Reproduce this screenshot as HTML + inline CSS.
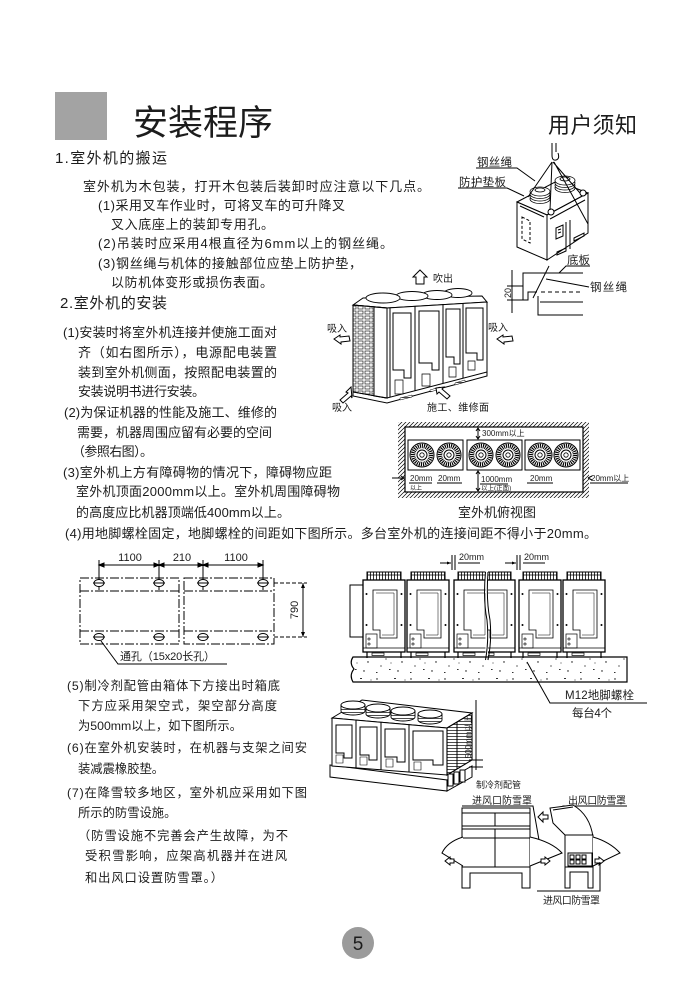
<!DOCTYPE html>
<html><head><meta charset="utf-8"><style>
html,body{margin:0;padding:0;background:#fff;}
svg{display:block;}
text{font-family:"Liberation Sans","Noto Sans CJK SC",sans-serif;fill:#1c1c1c;}
.s{fill:none;stroke:#000;stroke-width:1;}
.w{fill:#fff;stroke:#000;stroke-width:1;}
.t{font-size:13px;}
.t2{font-size:12.3px;}
.sm{font-size:10px;}
.lb{font-size:11.5px;}
.xs{font-size:8px;}
</style></head><body>
<svg width="699" height="992" viewBox="0 0 699 992" xmlns="http://www.w3.org/2000/svg">
<defs>
<pattern id="hatch" width="4" height="4" patternUnits="userSpaceOnUse"><path d="M-1,1 L1,-1 M0,4 L4,0 M3,5 L5,3" stroke="#000" stroke-width="0.7"/></pattern>
<pattern id="grille" width="7" height="5" patternUnits="userSpaceOnUse"><rect x="1" y="1" width="5" height="3" fill="#fff" stroke="#000" stroke-width="0.6"/></pattern>
<pattern id="vgr" width="3" height="8" patternUnits="userSpaceOnUse"><rect width="3" height="8" fill="#fff"/><path d="M1.5,0 V8" stroke="#000" stroke-width="0.8"/></pattern>
<pattern id="hgr" width="6" height="3" patternUnits="userSpaceOnUse"><rect width="6" height="3" fill="#fff"/><path d="M0,1.5 H6" stroke="#000" stroke-width="0.7"/></pattern>
<pattern id="speck" width="34" height="25" patternUnits="userSpaceOnUse">
<rect width="34" height="25" fill="#fff"/>
<g fill="#000"><circle cx="3" cy="4" r="0.7"/><circle cx="12" cy="9" r="0.6"/><rect x="20" y="3" width="2" height="0.8"/><circle cx="28" cy="12" r="0.7"/><circle cx="7" cy="16" r="0.6"/><rect x="15" y="19" width="1.6" height="0.8"/><circle cx="24" cy="21" r="0.7"/><circle cx="31" cy="5" r="0.5"/><circle cx="17" cy="13" r="0.5"/><rect x="2" y="22" width="1.5" height="0.8"/></g>
</pattern>
<g id="tfan">
<circle r="12" fill="#fff" stroke="#000" stroke-width="1"/>
<circle r="9" fill="none" stroke="#000" stroke-width="4.5" stroke-dasharray="1.1 0.9"/>
<circle r="5" fill="#fff" stroke="#000" stroke-width="1"/>
<circle r="2.2" fill="none" stroke="#000" stroke-width="0.8"/>
</g>
<g id="fu">
<rect x="4" y="-8" width="34" height="8" fill="url(#vgr)" stroke="#000" stroke-width="1"/>
<path d="M4,-5 H38" stroke="#000" stroke-width="0.7"/>
<rect x="0" y="0" width="42" height="72" fill="#fff" stroke="#000" stroke-width="1.3"/>
<path d="M10,10 H34 V58 H17 V50 H10 Z" fill="none" stroke="#000" stroke-width="0.8"/>
<path d="M13,13 H31 V55 H19" fill="none" stroke="#000" stroke-width="0.5"/>
<circle cx="3.5" cy="14" r="1" fill="#000"/><circle cx="38.5" cy="14" r="1" fill="#000"/>
<circle cx="3.5" cy="45" r="1" fill="#000"/><circle cx="38.5" cy="45" r="1" fill="#000"/>
<rect x="3" y="54" width="11" height="14" fill="none" stroke="#000" stroke-width="0.7"/>
<circle cx="6" cy="59" r="1.1" fill="none" stroke="#000" stroke-width="0.6"/><circle cx="6" cy="64" r="1.1" fill="none" stroke="#000" stroke-width="0.6"/>
<path d="M0,68 H42" stroke="#000" stroke-width="0.8"/>
<path d="M4,72 V78 M38,72 V78" stroke="#000" stroke-width="1.2"/>
<rect x="9" y="73" width="12" height="2.5" fill="#fff" stroke="#000" stroke-width="0.7"/>
</g>
<clipPath id="cl"><rect x="440" y="560" width="45.5" height="110"/></clipPath>
<clipPath id="cr"><rect x="488" y="560" width="40" height="110"/></clipPath>
</defs>

<!-- Title -->
<rect x="55" y="92" width="52" height="48" fill="#a3a3a3"/>
<text x="133" y="135" font-size="35" textLength="140">安装程序</text>
<text x="548" y="133" font-size="22" textLength="89">用户须知</text>

<!-- Section 1 text -->
<text x="55" y="163" font-size="15" textLength="112">1.室外机的搬运</text>
<text class="t" x="83" y="191" textLength="347">室外机为木包装，打开木包装后装卸时应注意以下几点。</text>
<text class="t" x="98" y="210" textLength="247">(1)采用叉车作业时，可将叉车的可升降叉</text>
<text class="t" x="111" y="229" textLength="163">叉入底座上的装卸专用孔。</text>
<text class="t" x="98" y="248" textLength="295">(2)吊装时应采用4根直径为6mm以上的钢丝绳。</text>
<text class="t" x="98" y="268" textLength="264">(3)钢丝绳与机体的接触部位应垫上防护垫，</text>
<text class="t" x="111" y="287" textLength="162">以防机体变形或损伤表面。</text>
<text x="60" y="308" font-size="15" textLength="107">2.室外机的安装</text>

<!-- Section 2 text -->
<text class="t" x="63" y="337" textLength="214">(1)安装时将室外机连接并使施工面对</text>
<text class="t" x="78" y="357" textLength="199">齐（如右图所示），电源配电装置</text>
<text class="t" x="78" y="377" textLength="199">装到室外机侧面，按照配电装置的</text>
<text class="t" x="78" y="396" textLength="127">安装说明书进行安装。</text>
<text class="t" x="64" y="417" textLength="213">(2)为保证机器的性能及施工、维修的</text>
<text class="t" x="77" y="437" textLength="195">需要，机器周围应留有必要的空间</text>
<text class="t" x="72" y="456" textLength="81">（参照右图）。</text>
<text class="t" x="63" y="477" textLength="269">(3)室外机上方有障碍物的情况下，障碍物应距</text>
<text class="t" x="76" y="496" textLength="264">室外机顶面2000mm以上。室外机周围障碍物</text>
<text class="t" x="76" y="517" textLength="214">的高度应比机器顶端低400mm以上。</text>
<text class="t" x="65" y="538" textLength="532">(4)用地脚螺栓固定，地脚螺栓的间距如下图所示。多台室外机的连接间距不得小于20mm。</text>

<!-- Section 5-7 text -->
<text class="t2" x="67" y="690" textLength="213">(5)制冷剂配管由箱体下方接出时箱底</text>
<text class="t2" x="78" y="710" textLength="199">下方应采用架空式，架空部分高度</text>
<text class="t2" x="78" y="730" textLength="164">为500mm以上，如下图所示。</text>
<text class="t2" x="67" y="752" textLength="240">(6)在室外机安装时，在机器与支架之间安</text>
<text class="t2" x="78" y="773">装减震橡胶垫。</text>
<text class="t2" x="67" y="797" textLength="240">(7)在降雪较多地区，室外机应采用如下图</text>
<text class="t2" x="78" y="817">所示的防雪设施。</text>
<text class="t2" x="78" y="840" textLength="210">（防雪设施不完善会产生故障，为不</text>
<text class="t2" x="85" y="860" textLength="202">受积雪影响，应架高机器并在进风</text>
<text class="t2" x="85" y="882" textLength="138">和出风口设置防雪罩。）</text>

<!-- Lifting diagram -->
<path class="s" d="M552,143 V155 Q552,161 556,160 Q560,159 558,153" stroke-width="1.3"/>
<path class="s" d="M556,143 V152"/>
<text class="lb" x="477" y="166" textLength="35">钢丝绳</text>
<path class="s" d="M476,168 H517 L535,181" stroke-width="0.8"/>
<text class="lb" x="459" y="186" textLength="47">防护垫板</text>
<path class="s" d="M458,188 H507 L524,196" stroke-width="0.8"/>
<polygon class="w" points="517,202 557,181 588,193 547,215" stroke-width="1.2"/>
<polygon class="w" points="517,202 547,215 547,260 517,247" stroke-width="1.2"/>
<polygon class="w" points="547,215 588,193 588,233 547,260" stroke-width="1.2"/>
<path class="s" d="M520,206 L544,217 M550,219 L585,200" stroke-width="0.6"/>
<path class="s" d="M522,217 L530,221 V243 L522,239 Z" stroke-dasharray="3 2" stroke-width="0.7"/>
<path class="s" d="M556,228 L563,225 V236 L556,239 Z M558,230 L561,229 M558,233 L561,232" stroke-width="0.7"/>
<path class="s" d="M566,222 V251 M570,220 V249" stroke-width="0.6"/>
<path class="s" d="M574,238 L584,233 V236 L574,241 Z M557,252 L566,248 V251 L557,255 Z" fill="url(#hgr)" stroke-width="0.6"/>
<g stroke="#000" stroke-width="0.8" fill="#fff">
<ellipse cx="540" cy="199" rx="10" ry="4.5"/><ellipse cx="540" cy="196.5" rx="10" ry="4.5"/><ellipse cx="540" cy="194" rx="10" ry="4.5"/><ellipse cx="540" cy="191.5" rx="10" ry="4.5"/><ellipse cx="540" cy="190" rx="5" ry="2"/>
<ellipse cx="565" cy="188" rx="10" ry="4.5"/><ellipse cx="565" cy="185.5" rx="10" ry="4.5"/><ellipse cx="565" cy="183" rx="10" ry="4.5"/><ellipse cx="565" cy="180.5" rx="10" ry="4.5"/><ellipse cx="565" cy="179" rx="5" ry="2"/>
</g>
<circle class="w" cx="551" cy="212" r="3"/><circle class="w" cx="583" cy="193" r="3"/>
<path class="s" d="M552,162 L528,197 M552,162 L550,210 M553,162 L580,193 M554,162 L588,224" stroke-width="1.1"/>

<!-- bracket detail -->
<text class="lb" x="567" y="264" textLength="23">底板</text>
<path class="s" d="M590,266 H566 L559,273" stroke-width="0.8"/>
<path class="s" d="M583,273 H523 V300 H528 V292 H537" stroke-width="1.2"/>
<path class="s" d="M538,296 V315 H583" stroke-width="1.2"/>
<path class="s" d="M541,292 H583" stroke-dasharray="4 3" stroke-width="0.9"/>
<path class="s" d="M540,302 H583" stroke-width="0.9"/>
<path class="s" d="M549,266 L533,298" stroke-width="1.3"/>
<path class="s" d="M512,270 V313 M507,286 H523 M507,300 H523" stroke-width="0.7"/>
<text font-size="9" transform="translate(511,293) rotate(-90)" text-anchor="middle">20</text>
<text class="lb" x="590" y="291" textLength="37">钢丝绳</text>
<path class="s" d="M589,287 L546,279" stroke-width="0.8"/>

<!-- Isometric unit -->
<polygon class="w" points="420,270 427,277 424,277 424,284 416,284 416,277 413,277" stroke-width="1"/>
<text class="sm" x="433" y="282">吹出</text>
<polygon class="w" points="353,305 363,298 482,296 487,302 387,308"/>
<g stroke="#000" stroke-width="0.9" fill="#fff">
<ellipse cx="458" cy="293" rx="14" ry="4.5"/>
<ellipse cx="437" cy="295" rx="15" ry="4.5"/>
<ellipse cx="412" cy="296" rx="16" ry="4.5"/>
<ellipse cx="383" cy="298" rx="17" ry="5"/>
</g>
<polygon points="353,305 387,308 387,398 353,392" fill="url(#grille)" stroke="#000" stroke-width="1"/>
<polygon class="w" points="374,307 387,308 387,398 374,396" stroke="none"/>
<path class="s" d="M374,307 V396 M353,305 L387,308 V398 L353,392 Z"/>
<polygon class="w" points="387,308 487,302 487,372 387,398"/>
<g class="s" stroke-width="0.9">
<path d="M415,306 V391 M443,304 V383 M463,303 V378 M390,308 V397"/>
<path d="M393,313 H411 V378 H404 V370 H393 Z"/>
<path d="M419,311 H439 V370 H432 V363 H419 Z"/>
<path d="M446,309 H460 V364 H454 V357 H446 Z"/>
<path d="M466,308 H483 V360 H477 V353 H466 Z"/>
<path d="M395,380 h8 v14 h-8 z M422,374 h8 v12 h-8 z M449,367 h7 v10 h-7 z M468,361 h7 v9 h-7 z" stroke-width="0.7"/>
<path d="M353,392 V396 L387,403 L487,376 V372"/>
</g>
<path d="M400,398 l12,-3 v2 l-12,3 z M430,390 l10,-3 v2 l-10,3 z M455,383 l10,-3 v2 l-10,3 z" fill="url(#hgr)" stroke="#000" stroke-width="0.5"/>
<text class="sm" x="327" y="332">吸入</text>
<polygon class="w" points="334,339 340,335 340,337 349,336 350,341 341,342 341,344" stroke-width="0.9"/>
<text class="sm" x="488" y="331">吸入</text>
<polygon class="w" points="497,339 503,335 503,337 512,336 513,341 504,342 504,344" stroke-width="0.9"/>
<polygon class="w" points="351,387 346,392 348,393 340,400 343,403 351,396 352,398" stroke-width="0.9"/>
<text class="sm" x="332" y="411">吸入</text>
<polygon class="w" points="436,388 444,387 442,389 450,396 447,399 439,392 437,394" stroke-width="0.9"/>
<text class="sm" x="427" y="411" textLength="62">施工、维修面</text>

<!-- Top view -->
<rect x="398" y="422" width="191" height="76" fill="url(#hatch)"/>
<rect x="405" y="427" width="178" height="65" fill="#fff" stroke="#000" stroke-width="1.2"/>
<rect x="408" y="440" width="55" height="30" class="w"/>
<rect x="467" y="440" width="55" height="30" class="w"/>
<rect x="525" y="440" width="55" height="30" class="w"/>
<use href="#tfan" x="422" y="455"/><use href="#tfan" x="449" y="455"/>
<use href="#tfan" x="481" y="455"/><use href="#tfan" x="508" y="455"/>
<use href="#tfan" x="540" y="455"/><use href="#tfan" x="566" y="455"/>
<path class="s" d="M478,428 V439 M476,431 L478,428 L480,431 M476,436 L478,439 L480,436" stroke-width="0.7"/>
<text class="xs" x="482" y="436">300mm以上</text>
<path class="s" d="M478,471 V491 M476,474 L478,471 L480,474 M476,488 L478,491 L480,488" stroke-width="0.7"/>
<text class="xs" x="410" y="481">20mm</text><text font-size="6" x="410" y="490">以上</text>
<path class="s" d="M409,483 H432 M437,483 H462" stroke-width="0.7"/>
<text class="xs" x="438" y="481">20mm</text>
<text class="xs" x="481" y="482">1000mm</text><text font-size="6.5" x="481" y="490">以上(正面)</text>
<path class="s" d="M480,484 H508" stroke-width="0.7"/>
<text class="xs" x="530" y="481">20mm</text>
<path class="s" d="M527,483 H553" stroke-width="0.7"/>
<path class="s" d="M392,478 H404 M401,476 L404,478 L401,480" stroke-width="0.7"/>
<text class="xs" x="591" y="481">20mm以上</text>
<path class="s" d="M590,483 H628 M588,478 L592,476 M588,478 L592,480" stroke-width="0.7"/>
<text x="497" y="517" font-size="13" text-anchor="middle">室外机俯视图</text>

<!-- Bolt layout -->
<g class="s" stroke-width="0.8">
<path d="M99,560 V590 M159,560 V590 M203,560 V590 M263,560 V590"/>
<path d="M99,565 H263"/>
<path d="M99,565 l5,-2 v4 z M159,565 l-5,-2 v4 z M159,565 l5,-2 v4 z M203,565 l-5,-2 v4 z M203,565 l5,-2 v4 z M263,565 l-5,-2 v4 z" fill="#000"/>
</g>
<text x="130" y="561" font-size="11" text-anchor="middle">1100</text>
<text x="182" y="561" font-size="11" text-anchor="middle">210</text>
<text x="236" y="561" font-size="11" text-anchor="middle">1100</text>
<g class="s" stroke-width="1" stroke-dasharray="9 2 2 2">
<rect x="80" y="578" width="99" height="66"/>
<rect x="184" y="578" width="90" height="66"/>
<path d="M80,591 H179 M80,631 H179 M184,591 H274 M184,631 H274"/>
</g>
<path class="s" d="M274,583 H307 M274,637 H307" stroke-dasharray="4 2" stroke-width="0.8"/>
<path class="s" d="M303,583 V637" stroke-width="0.8"/>
<path d="M303,583 l-2,5 h4 z M303,637 l-2,-5 h4 z" fill="#000"/>
<text font-size="11" transform="translate(298,610) rotate(-90)" text-anchor="middle">790</text>
<g stroke="#000" stroke-width="0.9" fill="#fff">
<ellipse cx="99" cy="583" rx="5" ry="3.5"/><ellipse cx="159" cy="583" rx="5" ry="3.5"/><ellipse cx="203" cy="583" rx="5" ry="3.5"/><ellipse cx="263" cy="583" rx="5" ry="3.5"/>
<ellipse cx="99" cy="637" rx="5" ry="3.5"/><ellipse cx="159" cy="637" rx="5" ry="3.5"/><ellipse cx="203" cy="637" rx="5" ry="3.5"/><ellipse cx="263" cy="637" rx="5" ry="3.5"/>
</g>
<path class="s" d="M93,583 H105 M153,583 H165 M197,583 H209 M257,583 H269 M93,637 H105 M153,637 H165 M197,637 H209 M257,637 H269" stroke-width="0.6"/>
<path class="s" d="M101,641 L118,664 H227" stroke-width="0.8"/>
<text x="120" y="660" font-size="11" textLength="95">通孔（15x20长孔）</text>

<!-- Multi units front view -->
<path d="M353,657 H627 V682 H353 Q349,675 354,669 Q349,663 353,657 Z" fill="url(#speck)" stroke="#000" stroke-width="1.2"/>
<rect x="350" y="585" width="13" height="52" class="w" stroke-width="1.2"/>
<use href="#fu" x="363" y="580"/>
<use href="#fu" x="407" y="580"/>
<g clip-path="url(#cl)"><use href="#fu" x="454" y="580"/></g>
<g clip-path="url(#cr)"><use href="#fu" x="473" y="580"/></g>
<path class="s" d="M485.5,572 Q483,600 487,620 Q489,640 485.5,660 M488,572 Q486,600 490,620 Q492,640 488,660" stroke-width="0.8"/>
<use href="#fu" x="519" y="580"/>
<use href="#fu" x="563" y="580"/>
<text font-size="9" x="459" y="560">20mm</text>
<path class="s" d="M440,563 H451 M452,555 V570 M455,555 V570 M458,563 H480" stroke-width="0.7"/>
<path d="M451,563 l-4,-1.5 v3 z" fill="#000"/>
<text font-size="9" x="524" y="560">20mm</text>
<path class="s" d="M505,563 H516 M517,555 V570 M520,555 V570 M523,563 H545" stroke-width="0.7"/>
<path d="M516,563 l-4,-1.5 v3 z" fill="#000"/>
<path class="s" d="M527,662 L550,703 H647" stroke-width="0.8"/>
<text class="lb" x="565" y="699" textLength="69">M12地脚螺栓</text>
<text class="lb" x="572" y="717" textLength="40">每台4个</text>

<!-- Elevated unit -->
<polygon class="w" points="330,765 447,780 447,791 330,777" stroke-width="1.1"/>
<polygon class="w" points="447,780 472,766 472,777 447,791" stroke-width="1.1"/>
<polygon class="w" points="332,718 362,700 472,713 447,728" stroke-width="1.1"/>
<polygon class="w" points="332,718 447,728 447,775 332,766" stroke-width="1.1"/>
<polygon points="447,728 472,713 472,760 447,775" fill="url(#hgr)" stroke="#000" stroke-width="1.1"/>
<path class="s" d="M457,722 V769" stroke-width="0.6"/>
<g class="s" stroke-width="0.8">
<path d="M356,720 V768 M381,722 V770 M409,725 V772"/>
<path d="M336,725 H352 V758 H344 V753 H336 Z M360,727 H377 V760 H369 V755 H360 Z M385,729 H405 V762 H397 V757 H385 Z M413,731 H443 V765 H433 V760 H413 Z"/>
<path d="M336,755 h7 v8 h-7 z M360,757 h7 v8 h-7 z M386,759 h7 v8 h-7 z M414,762 h7 v8 h-7 z" stroke-width="0.6"/>
</g>
<g stroke="#000" stroke-width="0.9">
<path d="M341,705 v6 a12,4 0 0 0 24,0 v-6 z" fill="url(#hgr)"/><ellipse cx="353" cy="705" rx="12" ry="4" fill="#fff"/>
<path d="M366,708 v6 a12,4 0 0 0 24,0 v-6 z" fill="url(#hgr)"/><ellipse cx="378" cy="708" rx="12" ry="4" fill="#fff"/>
<path d="M391,711 v6 a12,4 0 0 0 24,0 v-6 z" fill="url(#hgr)"/><ellipse cx="403" cy="711" rx="12" ry="4" fill="#fff"/>
<path d="M418,714 v6 a12,4 0 0 0 24,0 v-6 z" fill="url(#hgr)"/><ellipse cx="430" cy="714" rx="12" ry="4" fill="#fff"/>
</g>
<g class="w" stroke-width="0.8">
<rect x="448" y="774" width="5" height="12"/><rect x="454" y="772" width="5" height="12"/><rect x="460" y="770" width="5" height="12"/>
</g>
<path class="s" d="M476,700 V770 M469,760 H483 M469,767 H483" stroke-width="0.8"/>
<text font-size="8" transform="translate(471,737) rotate(-90)" text-anchor="middle">500mm以上</text>
<text font-size="9" x="476" y="788">制冷剂配管</text>

<!-- Snow hoods -->
<text class="sm" x="472" y="804" textLength="60">进风口防雪罩</text>
<path class="s" d="M462,806 H533 L539,840" stroke-width="0.8"/>
<text class="sm" x="568" y="804" textLength="58">出风口防雪罩</text>
<path class="s" d="M627,806 H563 L558,809" stroke-width="0.8"/>
<rect x="462" y="808" width="68" height="59" class="w" stroke-width="1.2"/>
<path class="s" d="M462,813 H530 M462,826 H530 M462,829 H530 M462,838 H530 M495,813 V826 M495,829 V867" stroke-width="0.9"/>
<path class="w" d="M463,837 Q447,842 442,853 L463,866" stroke-width="1"/>
<path class="w" d="M530,837 Q552,842 562,853 L530,866" stroke-width="1"/>
<path class="w" d="M462,867 H530 V888 H522 V873 H470 V888 H462 Z" stroke-width="1.1"/>
<polygon class="w" points="445,861 450,857 450,859 454,859 454,863 450,863 450,865" stroke-width="0.7"/>
<polygon class="w" points="550,861 545,857 545,859 541,859 541,863 545,863 545,865" stroke-width="0.7"/>
<polygon class="w" points="538,817 543,812 543,815 548,815 548,819 543,819 543,822" stroke-width="0.8"/>
<path class="w" d="M565,835 L553,823 L550,808 L573,805 Q590,815 593,837 Z" stroke-width="1.1"/>
<path class="s" d="M553,810 L573,807" stroke-width="0.6"/>
<rect x="565" y="835" width="28" height="32" class="w" stroke-width="1.1"/>
<rect x="568" y="853" width="24" height="13" class="w" stroke-width="0.8"/>
<g class="s" stroke-width="0.6"><rect x="570" y="855" width="4" height="4"/><rect x="576" y="855" width="4" height="4"/><rect x="582" y="855" width="4" height="4"/><rect x="570" y="860" width="4" height="4"/><rect x="576" y="860" width="4" height="4"/><rect x="582" y="860" width="4" height="4"/></g>
<path class="w" d="M593,837 Q610,842 620,853 L593,866" stroke-width="1"/>
<path class="w" d="M565,867 H593 V888 H588 V872 H570 V888 H565 Z" stroke-width="1.1"/>
<polygon class="w" points="604,861 599,857 599,859 595,859 595,863 599,863 599,865" stroke-width="0.7"/>
<path class="s" d="M600,862 V891 H537" stroke-width="0.8"/>
<text class="sm" x="543" y="904" textLength="57">进风口防雪罩</text>

<!-- page number -->
<circle cx="358" cy="943" r="16" fill="#9b9b9b"/>
<text x="358" y="950" font-size="19" text-anchor="middle">5</text>
</svg>
</body></html>
